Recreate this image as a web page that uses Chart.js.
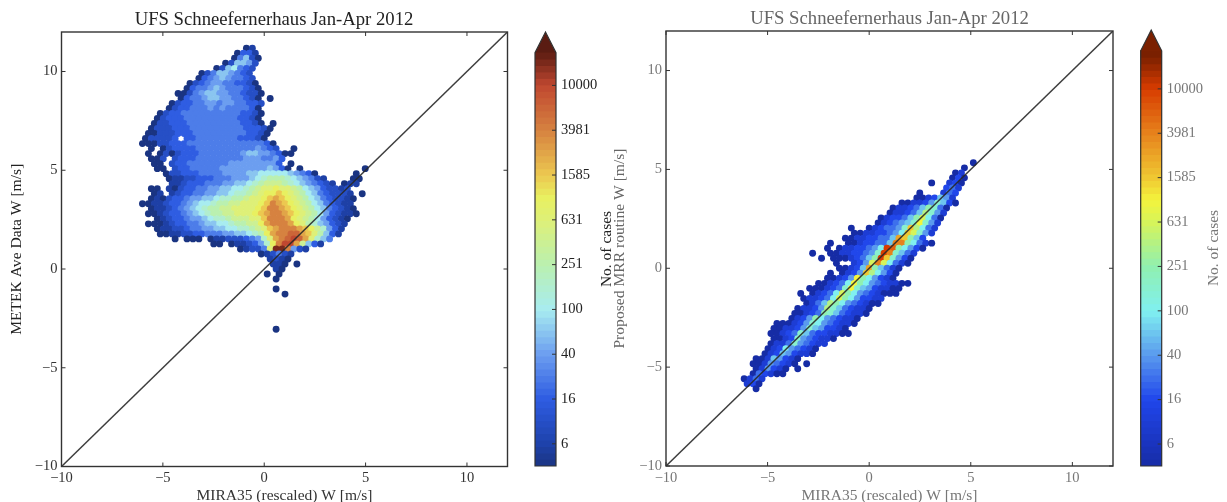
<!DOCTYPE html>
<html>
<head>
<meta charset="utf-8">
<title>UFS Schneefernerhaus Jan-Apr 2012</title>
<script src="https://cdn.jsdelivr.net/npm/chart.js@4/dist/chart.umd.min.js"></script>
<style>
  html, body { margin: 0; background: #fff; overflow: hidden; }
  canvas { position: absolute; top: 0; filter: blur(0.4px); }
</style>
</head>
<body>
<canvas id="leftPlot" width="525" height="502" style="left:0"></canvas>
<canvas id="leftBar" width="92" height="502" style="left:525px"></canvas>
<canvas id="rightPlot" width="518" height="502" style="left:612px"></canvas>
<canvas id="rightBar" width="97" height="502" style="left:1130px"></canvas>
<script>
const plotTitle = "UFS Schneefernerhaus Jan-Apr 2012";
const xTitle = "MIRA35 (rescaled) W [m/s]";
const leftYTitle = "METEK Ave Data W [m/s]";
const rightYTitle = "Proposed MRR routine W [m/s]";
const barTitle = "No. of cases";

const axisTicks = [-10, -5, 0, 5, 10];
const axisMin = -10;
const axisMax = 12;
const diagonal = [-10, 12];

// colourbar ticks, real positions and the labels printed next to them
const barTicks = [6.31, 15.85, 39.81, 100, 251.2, 631, 1585, 3981, 10000];
const barLabels = ["6", "16", "40", "100", "251", "631", "1585", "3981", "10000"];
const barMin = 4;

// hexbin spacing in data units
const hexDx = 0.293;
const hexDy = 0.254;

// cell counts, one character per cell
const levelCounts = [0, 3, 6, 10, 16, 25, 40, 63, 100, 160, 251, 400, 631, 1000, 1585, 2500, 3981, 6300, 10000, 16000];

// [row, first column, levels]
const leftRows = [
  [44, -3, "12"],
  [43, -5, "1442"],
  [42, -5, "15731"],
  [41, -7, "137763"],
  [40, -8, "1378543"],
  [39, -11, "135776543"],
  [38, -11, "1456765543"],
  [37, -13, "134566554431"],
  [36, -13, "1455676555431"],
  [35, -15, "113567766554331"],
  [34, -14, "14556776655431.1"],
  [33, -16, "134455665665" + "5443"],
  [32, -16, "1344555656555541"],
  [31, -18, "134455555555554431"],
  [30, -18, "1344455555555" + "54431"],
  [29, -19, "133444555555555" + "4431.1"],
  [28, -19, "1333444555555555" + "44431"],
  [27, -20, "11333444555555555" + "4431"],
  [26, -20, "133334.4455555554443" + "1"],
  [25, -21, "11133444555555555555" + "541"],
  [24, -19, "1.1344445555555555" + "6543..1"],
  [23, -20, "1.13134445555555" + "677665411"],
  [22, -19, "113.344455555555666" + "5564"],
  [21, -19, "11.344555555566666666" + "4.1"],
  [20, -18, "11.344555556666666676" + "41.1..........1"],
  [19, -17, "13344455556666778888" + "876541......1"],
  [18, -16, "1223344455566678" + "9aaa9876532....11"],
  [17, -16, "2234445556677" + "89abbba98765432.122"],
  [16, -19, "11.2134455667788" + "9abccdccba87643323"],
  [15, -19, "12.2344556677899" + "abcddedcba87543332.1"],
  [14, -19, "12134456677899aa" + "bccdefedcba87543321"],
  [13, -21, "1122344567889aabb" + "cccdegfedcba8754322"],
  [12, -19, "1223456789aabbcccc" + "deggfedcba8754321"],
  [11, -20, "11234456789aabbccc" + "defggfedcba8643221"],
  [10, -18, "123445667899abbbcc" + "egggfdcba864321"],
  [9, -20, "111234455677889aab" + "bdfgggfdca976432"],
  [8, -18, "1223345566778899" + "abcefgggfedb9642"],
  [7, -18, "11223344555667789a" + "dfgghhfeca742"],
  [6, -15, "1.111.122333456" + "9cfghihfc975"],
  [5, -9, "11.1223469dgiifb742"],
  [4, -4, "12335cjjg632"],
  [3, -1, "123532"],
  [2, 1, "2321"],
  [1, 1, "221.1"],
  [0, 2, "21"],
  [-1, 0, "1.1"],
  [-2, 2, "1"],
  [-4, 2, "1"],
  [-5, 3, "1"],
  [-12, 2, "1"]
];

const rightRows = [
  [21, 17, "1"],
  [20, 16, "1"],
  [19, 14, "13"],
  [18, 14, "141"],
  [17, 10, "1..341"],
  [16, 13, "453"],
  [15, 8, "1...354"],
  [14, 8, "1134763"],
  [13, 5, "1133469741"],
  [12, 4, "133457a951"],
  [11, 3, "133457b963"],
  [10, 2, "134457ac851"],
  [9, 1, "1345679d963"],
  [8, -3, "1..1345569eb853"],
  [7, -3, "113344568ec963"],
  [6, -4, "113344557fea74"],
  [5, -7, "1..11344557gga8531"],
  [4, -7, "1.13344568iha8641"],
  [3, -10, "1..113344569ig9753"],
  [2, -8, "1.1113457aie9641"],
  [1, -6, "1..346cgc8531"],
  [0, -5, "11347fa7531"],
  [-1, -7, "1.1346eb8641"],
  [-2, -7, "11346da86431"],
  [-3, -9, "113458da86543311"],
  [-4, -10, "1113459d97643311"],
  [-5, -12, "1.13458ca86543111"],
  [-6, -11, "133458ca864433"],
  [-7, -11, "1357ba8654311"],
  [-8, -12, "13346b9754331"],
  [-9, -13, "11345a9754331"],
  [-10, -13, "1346a8654331"],
  [-11, -16, "11134698654331"],
  [-12, -16, "1133469764431"],
  [-13, -17, "11345975443311"],
  [-14, -16, "11349654331"],
  [-15, -17, "1335965433"],
  [-16, -17, "134865431"],
  [-17, -18, "134764331"],
  [-18, -19, "11376431"],
  [-19, -20, "11365431.1"],
  [-20, -19, "136431.1"],
  [-21, -20, "154311"],
  [-22, -21, "1353"],
  [-23, -21, "341"],
  [-24, -19, "1"]
];

// colour stops as [count, rgb], taken from the two colourbars
const leftStops = [
  [4, [26, 52, 130]], [6.31, [30, 66, 170]], [15.85, [46, 92, 226]], [39.81, [108, 158, 240]],
  [100, [168, 236, 240]], [251, [186, 240, 176]], [631, [222, 240, 120]], [1000, [232, 240, 96]],
  [1585, [236, 200, 80]], [3981, [214, 130, 64]], [10000, [192, 72, 48]], [19700, [92, 28, 18]]
];
const rightStops = [
  [4, [22, 44, 165]], [6.31, [26, 52, 190]], [15.85, [32, 70, 235]], [39.81, [90, 154, 238]],
  [100, [128, 240, 240]], [251, [144, 240, 176]], [631, [214, 244, 90]], [1000, [244, 244, 60]],
  [1585, [240, 200, 50]], [3981, [230, 130, 28]], [10000, [216, 60, 0]], [19700, [122, 32, 0]]
];

function colorFor(stops, count) {
  const v = Math.log(count);
  for (let i = 1; i < stops.length; i++) {
    if (count <= stops[i][0]) {
      const lo = Math.log(stops[i - 1][0]);
      const t = Math.max(0, (v - lo) / (Math.log(stops[i][0]) - lo));
      const c = stops[i - 1][1].map((a, k) => Math.round(a + (stops[i][1][k] - a) * t));
      return `rgb(${c[0]},${c[1]},${c[2]})`;
    }
  }
  const last = stops[stops.length - 1][1];
  return `rgb(${last[0]},${last[1]},${last[2]})`;
}

// turn the row strings into points on the hex grid
function hexPoints(rows) {
  const points = [];
  rows.forEach(([row, first, levels]) => {
    [...levels].forEach((ch, i) => {
      if (ch === ".") return;
      const col = first + i + (row % 2 !== 0 ? 0.5 : 0);
      points.push({ x: col * hexDx, y: row * hexDy, count: levelCounts[parseInt(ch, 36)] });
    });
  });
  return points;
}

const serif = "'Liberation Serif', serif";

// matplotlib style frame with ticks pointing inwards on all four sides, plus the title
// (the left title sits off the plot centre, so the title plugin can't place it)
const framePlugin = {
  id: "frame",
  afterDraw(chart, args, opts) {
    const { ctx, chartArea: a, scales } = chart;
    ctx.save();
    ctx.strokeStyle = "#333";
    ctx.lineWidth = 1;
    axisTicks.forEach((v) => {
      const px = scales.x.getPixelForValue(v);
      const py = scales.y.getPixelForValue(v);
      ctx.beginPath();
      ctx.moveTo(px, a.bottom); ctx.lineTo(px, a.bottom - 4);
      ctx.moveTo(px, a.top); ctx.lineTo(px, a.top + 4);
      ctx.moveTo(a.left, py); ctx.lineTo(a.left + 4, py);
      ctx.moveTo(a.right, py); ctx.lineTo(a.right - 4, py);
      ctx.stroke();
    });
    ctx.lineWidth = 1.4;
    ctx.strokeRect(a.left, a.top, a.right - a.left, a.bottom - a.top);
    ctx.font = "18.7px " + serif;
    ctx.textAlign = "center";
    ctx.textBaseline = "middle";
    ctx.fillStyle = opts.titleColor;
    ctx.fillText(plotTitle, opts.titleX, opts.titleY);
    ctx.restore();
  }
};

// colourbar arrow, outline and the label that reads bottom to top
const barFramePlugin = {
  id: "barFrame",
  afterDraw(chart, args, opts) {
    const { ctx, chartArea: a, scales } = chart;
    const mid = (a.left + a.right) / 2;
    const base = scales.y.getPixelForValue(opts.barEnd);
    ctx.save();
    ctx.beginPath();
    ctx.moveTo(a.left, base);
    ctx.lineTo(mid, a.top);
    ctx.lineTo(a.right, base);
    ctx.closePath();
    ctx.fillStyle = opts.arrow;
    ctx.fill();
    ctx.strokeStyle = "#333";
    ctx.lineWidth = 1;
    barTicks.forEach((v) => {
      const py = scales.y.getPixelForValue(v);
      ctx.beginPath();
      ctx.moveTo(a.right, py); ctx.lineTo(a.right - 4, py);
      ctx.stroke();
    });
    ctx.lineWidth = 1.2;
    ctx.beginPath();
    ctx.moveTo(a.left, a.bottom);
    ctx.lineTo(a.left, base);
    ctx.lineTo(mid, a.top);
    ctx.lineTo(a.right, base);
    ctx.lineTo(a.right, a.bottom);
    ctx.closePath();
    ctx.stroke();

    ctx.translate(opts.titleX, (a.top + a.bottom) / 2);
    ctx.rotate(-Math.PI / 2);
    ctx.font = "15.5px " + serif;
    ctx.textAlign = "center";
    ctx.textBaseline = "middle";
    ctx.fillStyle = opts.titleColor;
    ctx.fillText(barTitle, 0, 0);
    ctx.restore();
  }
};

function makePlot(id, rows, stops, cfg) {
  const points = hexPoints(rows);
  return new Chart(document.getElementById(id), {
    type: "scatter",
    data: {
      datasets: [
        {
          data: diagonal.map((v) => ({ x: v, y: v })),
          showLine: true,
          borderColor: "rgba(40,40,40,0.9)",
          borderWidth: 1.5,
          pointRadius: 0,
          order: 0
        },
        {
          data: points,
          pointRadius: 3.45,
          pointBorderWidth: 0,
          pointBackgroundColor: points.map((p) => colorFor(stops, p.count)),
          order: 1
        }
      ]
    },
    options: {
      responsive: false,
      animation: false,
      layout: { padding: { right: cfg.padRight, top: cfg.top } },
      plugins: {
        legend: { display: false },
        tooltip: { enabled: false },
        frame: { titleX: cfg.titleX, titleY: cfg.titleY, titleColor: cfg.titleColor }
      },
      scales: {
        x: {
          type: "linear",
          min: axisMin,
          max: axisMax,
          grid: { display: false, drawTicks: false },
          border: { display: false },
          afterFit: (s) => { s.height = 502 - cfg.bottom; },
          afterBuildTicks: (s) => { s.ticks = axisTicks.map((value) => ({ value })); },
          ticks: {
            color: cfg.textColor,
            padding: 3,
            font: { family: serif, size: 14.5 },
            callback: (v) => String(v).replace("-", "\u2212")
          },
          title: {
            display: true,
            text: xTitle,
            color: cfg.textColor,
            padding: { top: 0, bottom: -1.5 },
            font: { family: serif, size: 15.5, lineHeight: 1 }
          }
        },
        y: {
          type: "linear",
          min: axisMin,
          max: axisMax,
          grid: { display: false, drawTicks: false },
          border: { display: false },
          afterFit: (s) => { s.width = cfg.plotLeft; },
          afterBuildTicks: (s) => { s.ticks = axisTicks.map((value) => ({ value })); },
          ticks: {
            color: cfg.textColor,
            padding: 4,
            font: { family: serif, size: 14.5 },
            callback: (v) => String(v).replace("-", "\u2212")
          },
          title: {
            display: true,
            text: cfg.yTitle,
            color: cfg.yTitleColor,
            padding: { top: cfg.yTitlePad, bottom: 0 },
            font: { family: serif, size: 15.6, lineHeight: 1 }
          }
        }
      }
    },
    plugins: [framePlugin]
  });
}

function makeBar(id, stops, cfg) {
  // each band runs up to the arrow, the next one paints over it, so no seams show
  const bandStarts = [];
  for (let i = 0; i < 64; i++) {
    bandStarts.push(barMin * Math.pow(cfg.barEnd / barMin, i / 64));
  }
  return new Chart(document.getElementById(id), {
    type: "bar",
    data: {
      labels: [""],
      datasets: bandStarts.map((lo, i) => ({
        data: [[lo, cfg.barEnd]],
        backgroundColor: colorFor(stops, barMin * Math.pow(cfg.barEnd / barMin, (i + 0.5) / 64)),
        borderWidth: 0,
        grouped: false,
        barPercentage: 1,
        categoryPercentage: 1,
        order: 64 - i
      }))
    },
    options: {
      responsive: false,
      animation: false,
      layout: { padding: { left: cfg.padLeft, top: cfg.top, bottom: 502 - cfg.bottom } },
      plugins: {
        legend: { display: false },
        tooltip: { enabled: false },
        barFrame: { barEnd: cfg.barEnd, arrow: cfg.arrow, titleX: cfg.titleX, titleColor: cfg.textColor }
      },
      scales: {
        x: { display: false },
        y: {
          type: "logarithmic",
          position: "right",
          min: barMin,
          max: cfg.barTop,
          grid: { display: false, drawTicks: false },
          border: { display: false },
          afterFit: (s) => { s.width = cfg.axisWidth; },
          afterBuildTicks: (s) => { s.ticks = barTicks.map((value) => ({ value })); },
          ticks: {
            autoSkip: false,
            color: cfg.textColor,
            padding: 5,
            font: { family: serif, size: 14.5 },
            callback: (v, i) => barLabels[i]
          }
        }
      }
    },
    plugins: [barFramePlugin]
  });
}

makePlot("leftPlot", leftRows, leftStops, {
  plotLeft: 61.5, padRight: 17.5, top: 32, bottom: 466.5, titleX: 274, titleY: 20,
  titleColor: "#222", textColor: "#333", yTitleColor: "#222", yTitle: leftYTitle, yTitlePad: 9.5
});
makePlot("rightPlot", rightRows, rightStops, {
  plotLeft: 54, padRight: 17, top: 31, bottom: 466, titleX: 277.5, titleY: 19,
  titleColor: "#666", textColor: "#777", yTitleColor: "#666", yTitle: rightYTitle, yTitlePad: 0.5
});
makeBar("leftBar", leftStops, {
  padLeft: 10, top: 32, bottom: 466, barTop: 30000, barEnd: 19600, arrow: "#5a1c12",
  axisWidth: 61, titleX: 82, textColor: "#222"
});
makeBar("rightBar", rightStops, {
  padLeft: 10.7, top: 30, bottom: 466, barTop: 33900, barEnd: 22000, arrow: "#7a2000",
  axisWidth: 65.3, titleX: 84, textColor: "#777"
});
</script>
</body>
</html>
